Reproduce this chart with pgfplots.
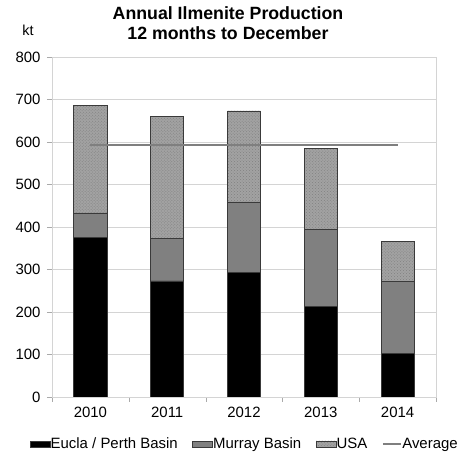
\documentclass[border=0pt]{standalone}
\usepackage{fontspec}
\setmainfont{Liberation Sans}
\usepackage{pgfplots}
\pgfplotsset{compat=1.18}
\usetikzlibrary{patterns}

\definecolor{gridgray}{HTML}{D4D4D4}
\definecolor{murray}{HTML}{808080}
\definecolor{usa}{HTML}{A2A2A2}
\definecolor{edge}{HTML}{3A3A3A}
\definecolor{avgline}{HTML}{7F7F7F}

% Annual production, kt
\pgfplotstableread{
x eucla murray usa
0 376 57 252
1 273 101 287
2 292 167 214
3 212 182 190
4 103 168 94
}\prod

\pgfplotstableread{
x avg
0 594
1 594
2 594
3 594
4 594
}\avg

\pgfplotsset{
  base/.style={
    scale only axis,
    width=384bp, height=340bp,
    xmin=-0.5, xmax=4.5,
    ymin=0, ymax=800,
  },
  sq/.style={legend image code/.code={\draw[##1] (0bp,-3bp) rectangle (#1,3bp);}},
  ln/.style={legend image code/.code={\draw[##1] (0bp,0bp) -- (#1,0bp);}},
}

\begin{document}
\begin{tikzpicture}
\path (0bp,0bp) rectangle (476bp,459bp);

\begin{axis}[
  base,
  at={(52bp,62bp)}, anchor=south west,
  ybar stacked,
  bar width=33bp,
  axis line style={draw=gridgray},
  ytick={0,100,...,800},
  ymajorgrids,
  grid style={gridgray, line width=0.8bp},
  xtick={0,1,2,3,4},
  xticklabels={2010,2011,2012,2013,2014},
  minor xtick={-0.5,0.5,...,4.5},
  major x tick style={draw=none},
  minor x tick style={draw=gridgray!80!black},
  minor tick length=5bp,
  ytick style={draw=gridgray!80!black},
  major tick length=5bp,
  tick align=outside,
  tick pos=left,
  ticklabel style={font=\fontsize{15}{17}\selectfont},
  yticklabel style={xshift=-3bp},
  xticklabel style={yshift=-2bp},
  /pgf/number format/assume math mode=true,
  every axis plot/.append style={draw=edge, line width=0.8bp},
]
\addplot[fill=black] table[x=x, y=eucla] {\prod};
\addplot[fill=murray] table[x=x, y=murray] {\prod};
\addplot[fill=usa, postaction={pattern=crosshatch dots, pattern color=black!50}] table[x=x, y=usa] {\prod};
\end{axis}

\begin{axis}[
  base,
  at={(52bp,62bp)}, anchor=south west,
  hide axis,
  legend style={
    at={(0.5,-0.138)}, anchor=center,
    draw=none, fill=none,
    legend columns=-1,
    font=\fontsize{15}{17}\selectfont,
    nodes={inner sep=0.5bp},
    /tikz/every odd column/.append style={column sep=0bp},
    /tikz/every even column/.append style={column sep=14bp},
    inner sep=0pt,
  },
  legend cell align=left,
]
\addlegendimage{area legend, fill=black, draw=edge, sq=20bp}
\addlegendentry{Eucla / Perth Basin}
\addlegendimage{area legend, fill=murray, draw=edge, sq=20bp}
\addlegendentry{Murray Basin}
\addlegendimage{area legend, fill=usa, draw=edge, postaction={pattern=crosshatch dots, pattern color=black!50}, sq=20bp}
\addlegendentry{USA}
\addplot[avgline, line width=2bp, sharp plot, mark=none, ln=18bp]
  table[x=x, y=avg] {\avg};
\addlegendentry{Average}
\end{axis}

\node[font=\bfseries\fontsize{17.8}{20}\selectfont, align=center] at (228bp,436bp)
  {Annual Ilmenite Production\\12 months to December};
\node[font=\fontsize{14.5}{16}\selectfont] at (28bp,429bp) {kt};
\end{tikzpicture}
\end{document}
